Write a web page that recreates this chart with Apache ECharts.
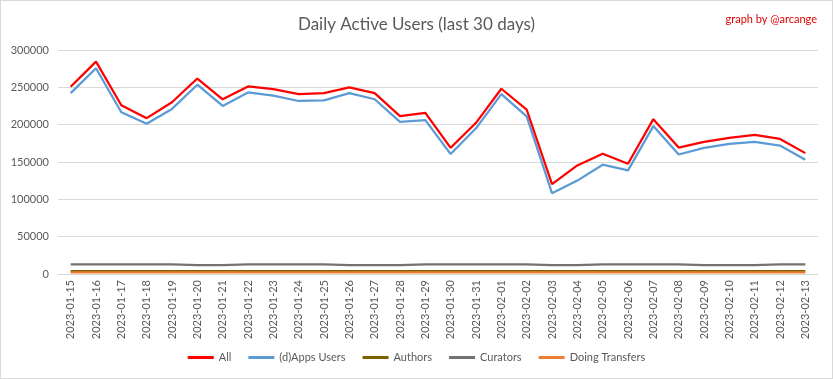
<!DOCTYPE html>
<html><head><meta charset="utf-8">
<script src="https://cdn.jsdelivr.net/npm/echarts@6/dist/echarts.min.js"></script>
<style>
html,body{margin:0;padding:0;background:#fff;}
#c{width:833px;height:379px;box-sizing:border-box;border:1px solid #d9d9d9;}
</style></head>
<body><div id="c"></div>
<script>
const categories = ["2023-01-15","2023-01-16","2023-01-17","2023-01-18","2023-01-19","2023-01-20","2023-01-21","2023-01-22","2023-01-23","2023-01-24","2023-01-25","2023-01-26","2023-01-27","2023-01-28","2023-01-29","2023-01-30","2023-01-31","2023-02-01","2023-02-02","2023-02-03","2023-02-04","2023-02-05","2023-02-06","2023-02-07","2023-02-08","2023-02-09","2023-02-10","2023-02-11","2023-02-12","2023-02-13"];
const allUsers = [250800,284400,226000,208700,230000,261800,234000,251200,247600,241000,242300,249900,242300,211400,215800,169000,202500,248100,220300,120300,145400,161000,147700,207400,169300,176900,182200,186200,180900,161900];
const appsUsers = [242300,275500,216700,201200,221100,253500,225100,243200,238900,231700,232600,242300,234000,203800,206100,160600,195100,241000,211000,108300,125100,146400,138800,198100,160000,169000,174200,176900,172000,153000];
const authors = [3800,3800,3800,3800,3800,3700,3700,3800,3800,3800,3800,3700,3700,3700,3800,3800,3800,3800,3800,3700,3700,3800,3800,3800,3800,3700,3700,3700,3800,3800];
const curators = [13000,13000,13000,13000,13000,12000,12000,13000,13000,13000,13000,12000,12000,12000,13000,13000,13000,13000,13000,12000,12000,13000,13000,13000,13000,12000,12000,12000,13000,13000];
const transfers = [2200,2200,2200,2200,2200,2200,2200,2200,2200,2200,2200,2200,2200,2200,2200,2200,2200,2200,2200,2200,2200,2200,2200,2200,2200,2200,2200,2200,2200,2200];
const yTicks = [0,50000,100000,150000,200000,250000,300000];

const font = 'Lato';
const chart = echarts.init(document.getElementById('c'), null, {renderer:'canvas'});
function mk(name, data, color){
  return {name, type:'line', data, symbol:'none', smooth:false,
    lineStyle:{color, width:2.25}, itemStyle:{color}, emphasis:{disabled:true}};
}
chart.setOption({
  animation:false,
  title:[
    {text:'Daily Active Users (last 30 days)', left:'center', top:10,
     textStyle:{fontFamily:font, fontSize:17, fontWeight:'normal', color:'#595959'}},
    {text:'graph by @arcange', right:10, top:8,
     textStyle:{fontFamily:font, fontSize:11, fontWeight:'normal', color:'#e00000'}}
  ],
  grid:{left:57, right:14, top:49, bottom:104, containLabel:false},
  legend:{bottom:10, left:'center', icon:'rect', itemWidth:26, itemHeight:3, itemGap:17,
    textStyle:{fontFamily:font, fontSize:11, color:'#595959'},
    data:['All','(d)Apps Users','Authors','Curators','Doing Transfers']},
  xAxis:{type:'category', data:categories, boundaryGap:true,
    axisLine:{lineStyle:{color:'#d9d9d9'}}, axisTick:{show:false},
    axisLabel:{rotate:90, interval:0, fontFamily:font, fontSize:11, color:'#595959', margin:6}},
  yAxis:{type:'value', min:yTicks[0], max:yTicks[yTicks.length-1], interval:50000,
    axisLine:{show:false}, axisTick:{show:false},
    splitLine:{lineStyle:{color:'#d9d9d9'}},
    axisLabel:{fontFamily:font, fontSize:11, color:'#595959', margin:9, formatter:v=>String(v)}},
  series:[
    mk('Curators', curators, '#767171'),
    mk('Authors', authors, '#7f6000'),
    mk('Doing Transfers', transfers, '#ed7d31'),
    mk('(d)Apps Users', appsUsers, '#5b9bd5'),
    mk('All', allUsers, '#ff0000')
  ]
});
</script></body></html>
